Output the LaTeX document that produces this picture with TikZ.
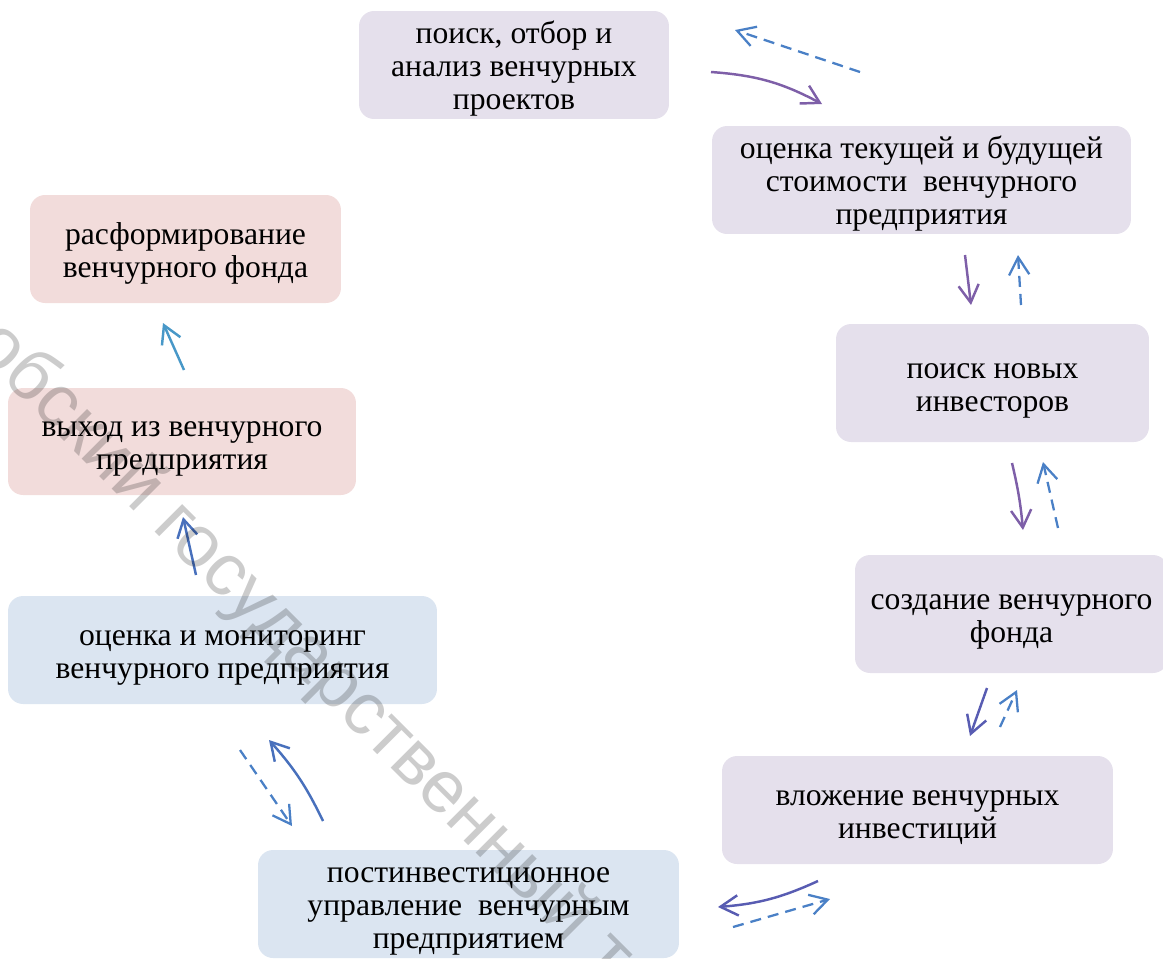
\documentclass[tikz,border=0pt]{standalone}
\usepackage{fontspec}
\setmainfont{Liberation Serif}
\newfontfamily\markfont{Liberation Sans}
\usepackage{xcolor}
\usepackage{tikz}
\usetikzlibrary{arrows.meta}
\definecolor{lavbox}{RGB}{229,224,236}
\definecolor{bluebox}{RGB}{219,229,241}
\definecolor{pinkbox}{RGB}{242,220,219}
\definecolor{violetline}{RGB}{126,95,168}
\definecolor{indigoline}{RGB}{88,92,178}
\definecolor{blueline}{RGB}{72,112,188}
\definecolor{dashline}{RGB}{74,128,198}
\definecolor{aqualine}{RGB}{72,152,200}
\tikzset{
    stage/.style={fill=#1, rounded corners=0.3cm, inner sep=0pt, align=center,
      font=\fontsize{18}{18.8}\selectfont, text height=35.8pt, text depth=3.8pt},
    stage/.default=lavbox,
    three lines/.style={text height=54.6pt},
    barb/.tip={Straight Barb[length=10pt,width=11.5pt]}}
\tikzset{
  fwd/.style={-barb, line width=1.4pt, draw=#1},
  back/.style={-barb, line width=1.3pt, draw=dashline, dash pattern=on 6.3pt off 4pt}
}

\begin{document}
\begin{tikzpicture}[x=0.02cm,y=-0.02cm]
\useasboundingbox (0,0) rectangle (1163,958);
\node[stage, three lines, minimum width=6.2cm, minimum height=2.16cm] (search) at (514,65)
  {поиск, отбор и\\ анализ венчурных\\ проектов};
\node[stage, three lines, minimum width=8.38cm, minimum height=2.16cm] (value) at (921.5,180)
  {оценка текущей и будущей\\ стоимости\ \ венчурного\\ предприятия};
\node[stage, minimum width=6.26cm, minimum height=2.36cm] (investors) at (992.5,383)
  {поиск новых\\ инвесторов};
\node[stage, minimum width=6.26cm, minimum height=2.36cm] (fund) at (1011.5,614)
  {создание венчурного\\ фонда};
\node[stage, minimum width=7.82cm, minimum height=2.16cm] (invest) at (917.5,810)
  {вложение венчурных\\ инвестиций};
\node[stage=bluebox, three lines, minimum width=8.42cm, minimum height=2.16cm] (postinv) at (468.5,904)
  {постинвестиционное\\ управление\ \ венчурным\\ предприятием};
\node[stage=bluebox, minimum width=8.58cm, minimum height=2.16cm] (monitor) at (222.5,650)
  {оценка и мониторинг\\ венчурного предприятия};
\node[stage=pinkbox, minimum width=6.96cm, minimum height=2.14cm] (exit) at (182,441.5)
  {выход из венчурного\\ предприятия};
\node[stage=pinkbox, minimum width=6.22cm, minimum height=2.16cm] (dissolve) at (185.5,249)
  {расформирование\\ венчурного фонда};

% arrows between the stages
\coordinate (a1) at (711,72);   \coordinate (b1) at (822,104);
\coordinate (a2) at (860,72);   \coordinate (b2) at (735,30);
\coordinate (a3) at (965,255);  \coordinate (b3) at (971,305);
\coordinate (a4) at (1021,305); \coordinate (b4) at (1018,255);
\coordinate (a5) at (1012,463); \coordinate (b5) at (1023,530);
\coordinate (a6) at (1058,528); \coordinate (b6) at (1043,462);
\coordinate (a7) at (987,688);  \coordinate (b7) at (970,736);
\coordinate (a8) at (1000,727); \coordinate (b8) at (1017,690);
\coordinate (a9) at (818,881);  \coordinate (b9) at (718,907);
\coordinate (a10) at (733,927); \coordinate (b10) at (830,899);
\coordinate (a11) at (323,821); \coordinate (b11) at (269,740);
\coordinate (a12) at (240,750); \coordinate (b12) at (292,826);
\coordinate (a13) at (196,575); \coordinate (b13) at (183,517);
\coordinate (a14) at (184,370); \coordinate (b14) at (163,323);

\draw[fwd=violetline] (a1) to[bend left=12] (b1);
\draw[back] (a2)--(b2);
\draw[fwd=violetline] (a3)--(b3);
\draw[back] (a4)--(b4);
\draw[fwd=violetline] (a5) to[bend left=4] (b5);
\draw[back] (a6)--(b6);
\draw[fwd=indigoline] (a7)--(b7);
\draw[back] (a8)--(b8);
\draw[fwd=indigoline] (a9) to[bend left=10] (b9);
\draw[back] (a10)--(b10);
\draw[fwd=blueline] (a11) to[bend right=8] (b11);
\draw[back] (a12)--(b12);
\draw[fwd=blueline] (a13)--(b13);
\draw[fwd=aqualine] (a14)--(b14);

% watermark
\node[rotate=-45, text=black, opacity=0.2, font=\markfont\fontsize{42}{42}\selectfont] (mark)
  at (303,652) {обский государственный т};
\end{tikzpicture}
\end{document}
